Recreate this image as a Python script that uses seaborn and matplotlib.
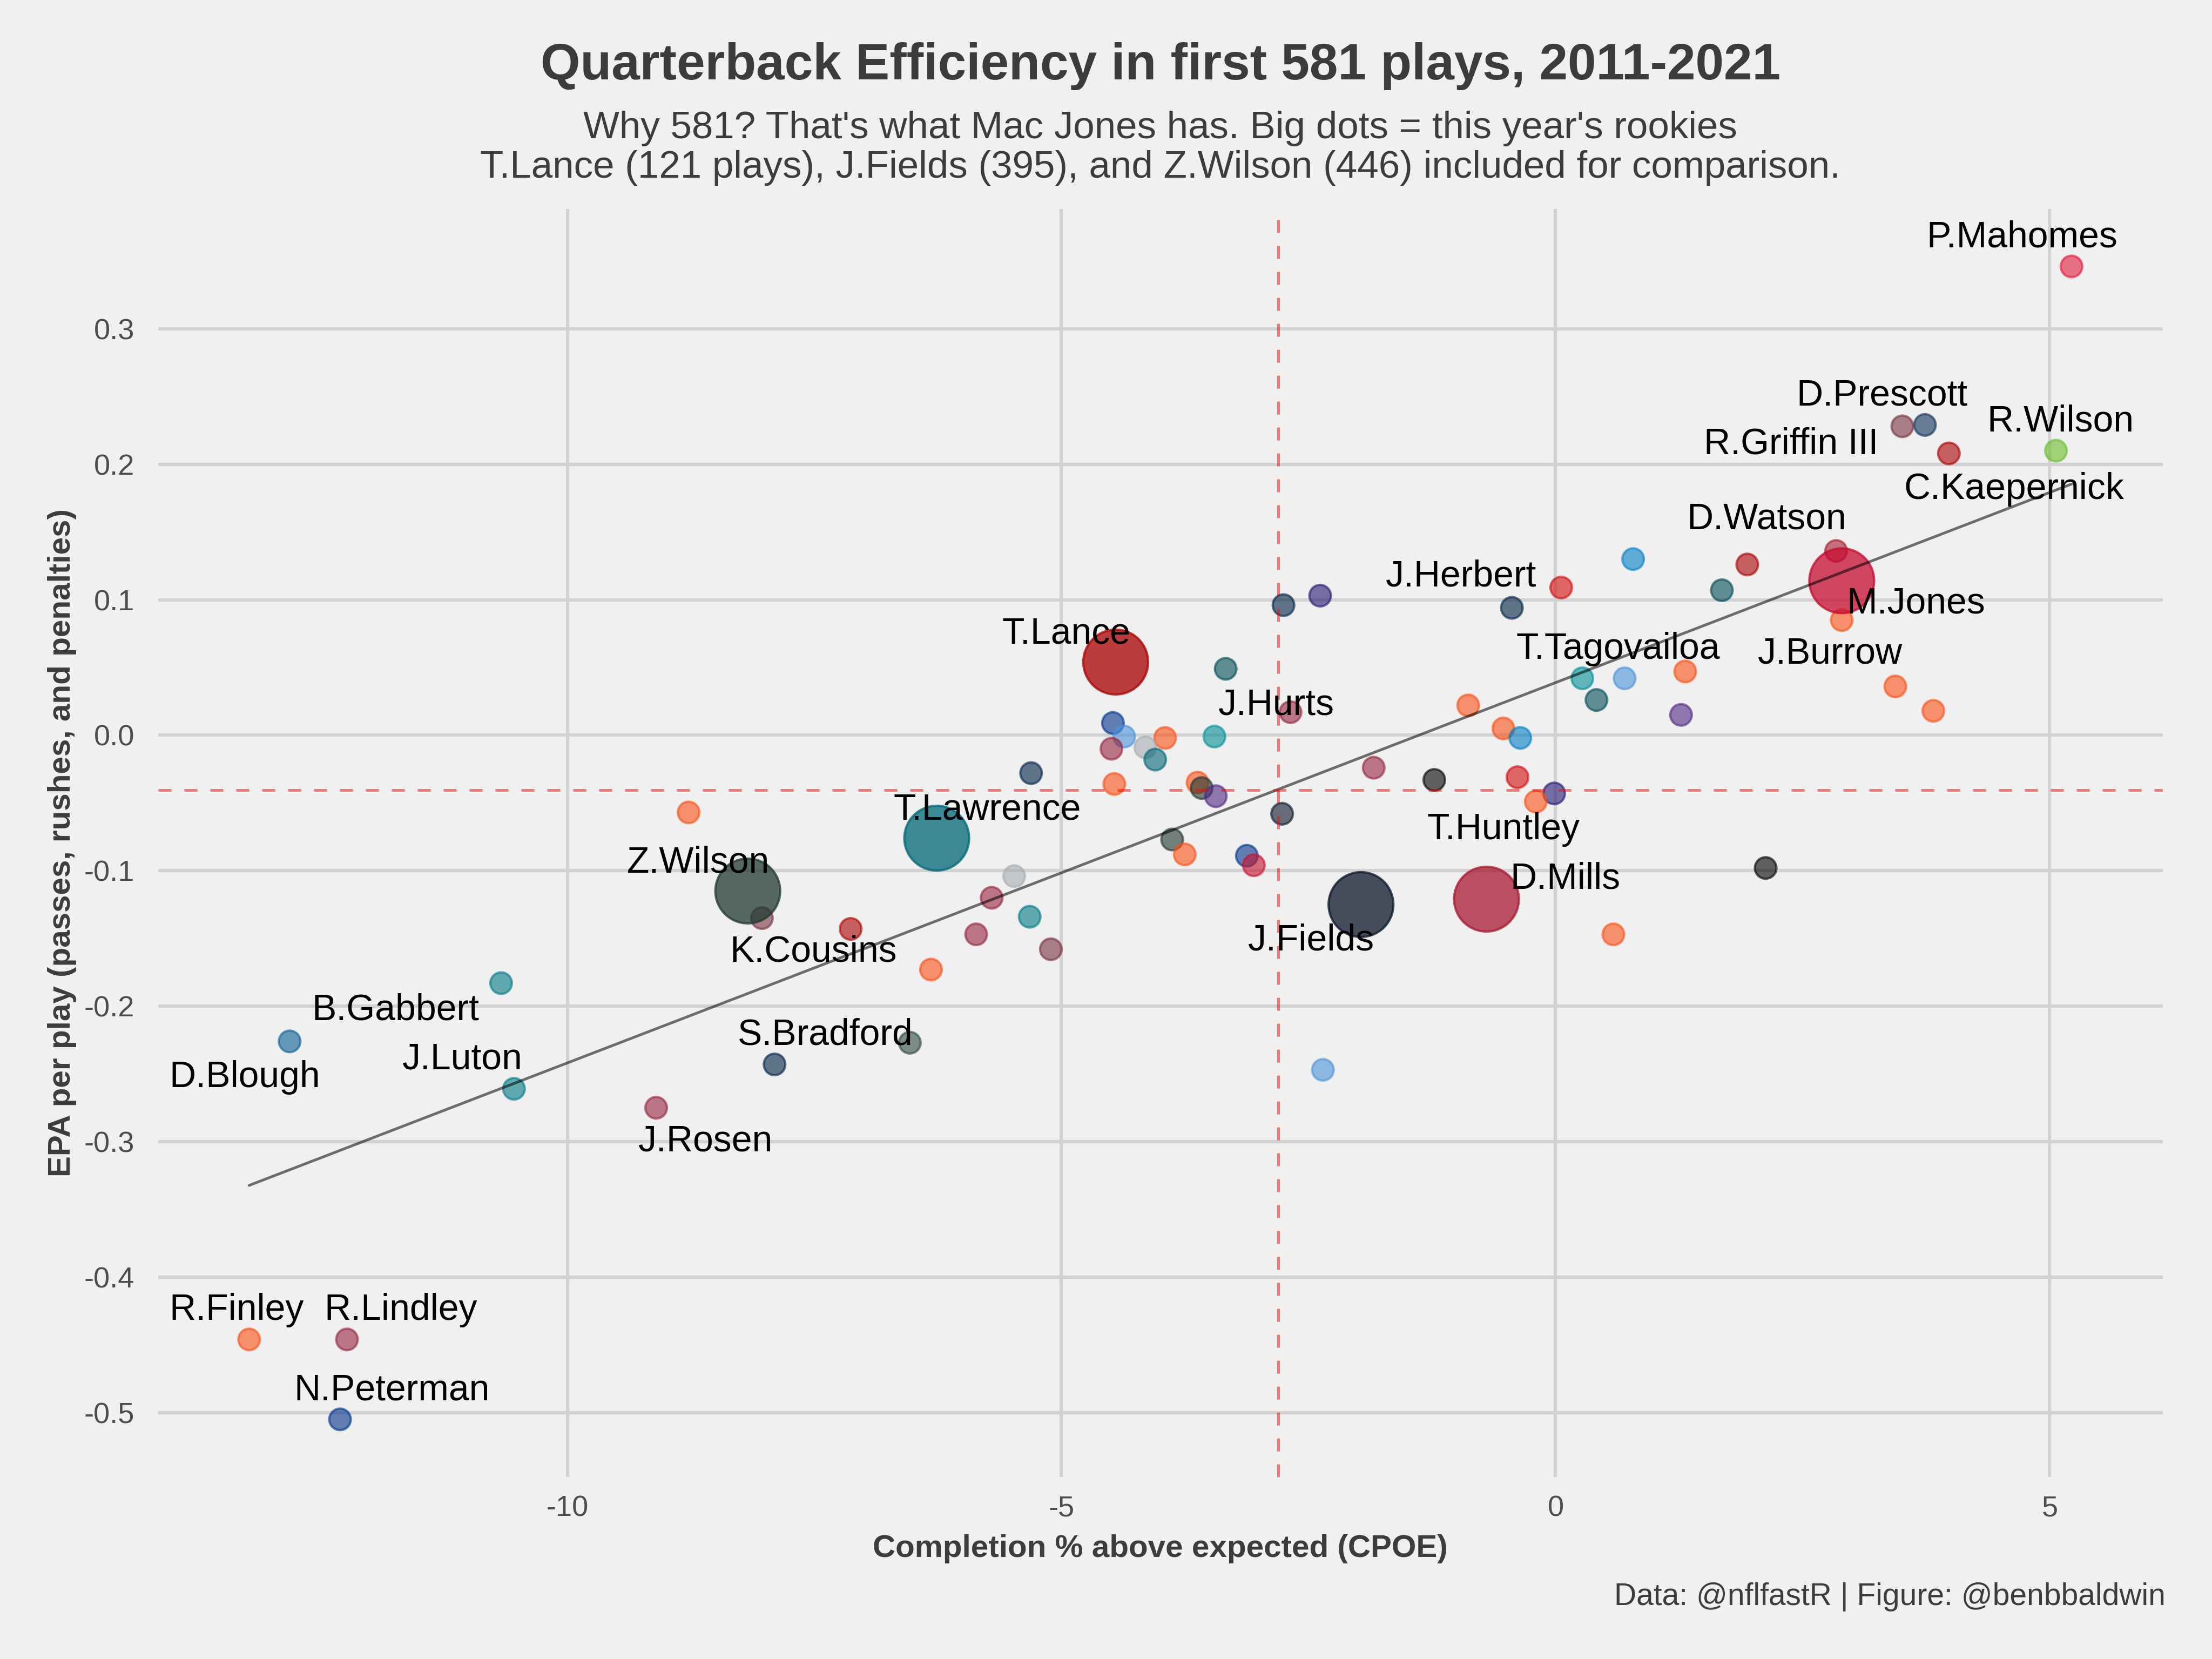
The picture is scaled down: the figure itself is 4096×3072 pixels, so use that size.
import matplotlib
matplotlib.use("Agg")
import matplotlib.pyplot as plt
import numpy as np
import pandas as pd
import seaborn as sns

# ---------------- data ----------------
cpoe = [5.221, 3.738, 3.509, 3.980, 5.064, 2.839, 1.940, 1.683, 0.785, 0.057,
        -0.442, 2.896, 1.312, 0.271, 0.699, 0.414, 1.270, 3.438, 3.823, -0.884,
        -0.528, -0.357, -0.385, -0.014, -0.200, -1.227, -1.840, 2.126, 0.585, -2.354,
        -2.753, -2.382, -3.338, -2.682, -3.452, -3.951, -4.479, -4.365, -4.494, -4.151,
        -4.051, -5.307, -4.465, -3.623, -3.581, -3.438, -2.767, -3.880, -3.752, -3.124,
        -3.053, -5.478, -5.706, -5.321, -5.863, -5.107, -6.320, -7.133, -8.031, -8.773,
        -6.534, -7.903, -9.101, -10.67, -10.54, -12.81, -13.22, -12.23, -12.30,
        -4.451, -6.262, -8.174, -1.969, -0.699, 2.896]
epa = [0.346, 0.229, 0.228, 0.208, 0.210, 0.136, 0.126, 0.107, 0.130, 0.109,
       0.094, 0.085, 0.047, 0.042, 0.042, 0.026, 0.015, 0.036, 0.018, 0.022,
       0.005, -0.002, -0.031, -0.043, -0.049, -0.033, -0.024, -0.098, -0.147, -0.247,
       0.096, 0.103, 0.049, 0.017, -0.001, -0.002, 0.009, -0.001, -0.010, -0.009,
       -0.018, -0.028, -0.036, -0.035, -0.039, -0.045, -0.058, -0.077, -0.088, -0.089,
       -0.096, -0.104, -0.120, -0.134, -0.147, -0.158, -0.173, -0.143, -0.135, -0.057,
       -0.227, -0.243, -0.275, -0.183, -0.261, -0.226, -0.446, -0.446, -0.505,
       0.054, -0.076, -0.115, -0.125, -0.121, 0.114]
team_color = ["#E31837", "#0E2F5A", "#773141", "#AA0000", "#69BE28", "#A71930", "#AA0000", "#004C54", "#0080C6", "#D50A0A",
              "#002244", "#FB4F14", "#FB4F14", "#008E97", "#4B92DB", "#004C54", "#4F2683", "#FB4F14", "#FB4F14", "#FB4F14",
              "#FB4F14", "#0080C6", "#D50A0A", "#241773", "#FB4F14", "#000000", "#97233F", "#000000", "#FB4F14", "#4B92DB",
              "#002244", "#241773", "#004C54", "#97233F", "#008E97", "#FB4F14", "#00338D", "#4B92DB", "#97233F", "#A5ACAF",
              "#006778", "#002244", "#FB4F14", "#FB4F14", "#203731", "#4F2683", "#0B162A", "#203731", "#FB4F14", "#00338D",
              "#C8102E", "#A5ACAF", "#97233F", "#007A87", "#97233F", "#773141", "#FB4F14", "#AA0000", "#773141", "#FB4F14",
              "#2B4A3C", "#002244", "#97233F", "#007A87", "#007A87", "#0B5F94", "#FB4F14", "#97233F", "#00338D",
              "#AA0000", "#006778", "#213A31", "#0B162A", "#A71930", "#C60C30"]
player = ["P.Mahomes", "D.Prescott", "R.Griffin III", "C.Kaepernick", "R.Wilson", "D.Watson", "", "", "", "",
          "J.Herbert", "", "", "T.Tagovailoa", "", "", "", "J.Burrow", "", "",
          "", "", "", "T.Huntley", "", "", "", "", "", "",
          "", "", "J.Hurts", "", "", "", "", "", "", "",
          "", "", "", "", "", "", "", "", "", "",
          "", "", "", "", "", "", "", "", "K.Cousins", "",
          "", "S.Bradford", "J.Rosen", "B.Gabbert", "J.Luton", "D.Blough", "R.Finley", "R.Lindley", "N.Peterman",
          "T.Lance", "T.Lawrence", "Z.Wilson", "J.Fields", "D.Mills", "M.Jones"]
rookie = [False] * 69 + [True] * 6

epa_mean = -0.0406
cpoe_mean = -2.807

title = "Quarterback Efficiency in first 581 plays, 2011-2021"
subtitle1 = "Why 581? That's what Mac Jones has. Big dots = this year's rookies"
subtitle2 = "T.Lance (121 plays), J.Fields (395), and Z.Wilson (446) included for comparison."
xlabel = "Completion % above expected (CPOE)"
ylabel = "EPA per play (passes, rushes, and penalties)"
caption = "Data: @nflfastR | Figure: @benbbaldwin"
xticks = [-10, -5, 0, 5]
yticks = [-0.5, -0.4, -0.3, -0.2, -0.1, 0.0, 0.1, 0.2, 0.3]

# label offsets (points) for repel-like placement
label_offset = {
    "P.Mahomes": (-22, 13), "D.Prescott": (-19, 13), "R.Griffin III": (-49.5, -8),
    "C.Kaepernick": (29, -16), "R.Wilson": (2, 13), "D.Watson": (-31, 14),
    "M.Jones": (33, -10), "J.Herbert": (-22.5, 14), "T.Tagovailoa": (16, 13),
    "J.Burrow": (-29, 14.5), "J.Hurts": (22.5, -16), "T.Lance": (-22, 12.5),
    "T.Lawrence": (22.5, 12.5), "Z.Wilson": (-22, 12.5), "K.Cousins": (23, -15),
    "J.Fields": (-22, -16), "D.Mills": (35, 9), "T.Huntley": (-22.5, -16),
    "S.Bradford": (22.5, 13), "J.Rosen": (22, -15), "B.Gabbert": (-47, -12),
    "J.Luton": (-23, 13), "D.Blough": (-20, -16), "R.Finley": (-5.6, 13),
    "R.Lindley": (24, 13), "N.Peterman": (23, 13),
}

df = pd.DataFrame({"cpoe": cpoe, "epa": epa, "color": team_color,
                   "player": player, "rookie": rookie})

# ---------------- style ----------------
BG = "#F0F0F0"
sns.set_theme(style="white")
plt.rcParams["font.family"] = ["Liberation Sans", "DejaVu Sans"]
plt.rcParams["axes.unicode_minus"] = False

fig = plt.figure(figsize=(4096 / 300, 3072 / 300), dpi=300, facecolor=BG)
L, R, T, B = 112 / 1568, 1533 / 1568, 148 / 1176, 1047 / 1176
ax = fig.add_axes([L, 1 - B, R - L, B - T], facecolor=BG)

small = df[~df.rookie]
big = df[df.rookie]
sns.scatterplot(data=small, x="cpoe", y="epa", hue="color",
                palette={c: c for c in small.color.unique()}, s=92, alpha=0.6,
                edgecolor="face", linewidth=1.0, legend=False, ax=ax, zorder=3)
sns.scatterplot(data=big, x="cpoe", y="epa", hue="color",
                palette={c: c for c in big.color.unique()}, s=830, alpha=0.75,
                edgecolor="face", linewidth=1.0, legend=False, ax=ax, zorder=3.5)
sns.regplot(data=df, x="cpoe", y="epa", scatter=False, ci=None, truncate=True,
            color="black", line_kws=dict(lw=1.2, alpha=0.55, zorder=4), ax=ax)

ax.axhline(epa_mean, color="red", alpha=0.5, lw=1.2, dashes=(4.8, 4.8), zorder=4.5)
ax.axvline(cpoe_mean, color="red", alpha=0.5, lw=1.2, dashes=(4.8, 4.8), zorder=4.5)

for _, r in df[df.player != ""].iterrows():
    dx, dy = label_offset[r.player]
    ax.annotate(r.player, xy=(r.cpoe, r.epa), xytext=(dx, dy),
                textcoords="offset points", ha="center", va="center",
                fontsize=16.3, color="black", zorder=6)

# limits with 5% expansion
xr = df.cpoe.max() - df.cpoe.min()
yr = df.epa.max() - df.epa.min()
ax.set_xlim(df.cpoe.min() - 0.05 * xr, df.cpoe.max() + 0.05 * xr)
ax.set_ylim(df.epa.min() - 0.05 * yr, df.epa.max() + 0.05 * yr)

ax.set_xticks(xticks)
ax.set_xticklabels([str(t) for t in xticks])
ax.set_yticks(yticks)
ax.set_yticklabels([f"{t:.1f}" for t in yticks])
ax.grid(True, color="#D2D2D2", lw=1.5, zorder=0)
ax.set_axisbelow(True)
for s in ax.spines.values():
    s.set_visible(False)
ax.tick_params(axis="both", length=0, labelsize=13, labelcolor="#4D4D4D")
ax.tick_params(axis="x", pad=8)
ax.tick_params(axis="y", pad=10.5)

ax.set_xlabel(xlabel, fontsize=14, fontweight="bold", color="#3C3C3C", va="center")
ax.set_ylabel(ylabel, fontsize=14, fontweight="bold", color="#3C3C3C", va="center")
ax.xaxis.set_label_coords(0.5, (1047 - 1098) / 899)
ax.yaxis.set_label_coords((44 - 112) / 1421, 0.5)

cx = (L + R) / 2
fig.text(cx, 1 - 47 / 1176, title, ha="center", va="center", fontsize=22.7,
         fontweight="bold", color="#3C3C3C")
fig.text(cx, 1 - 91 / 1176, subtitle1, ha="center", va="center", fontsize=17,
         color="#3C3C3C")
fig.text(cx, 1 - 119 / 1176, subtitle2, ha="center", va="center", fontsize=17,
         color="#3C3C3C")
fig.text(1535 / 1568, 1 - 1132 / 1176, caption, ha="right", va="center",
         fontsize=13.7, color="#3C3C3C")

fig.savefig("out.png", dpi=300, facecolor=BG)
